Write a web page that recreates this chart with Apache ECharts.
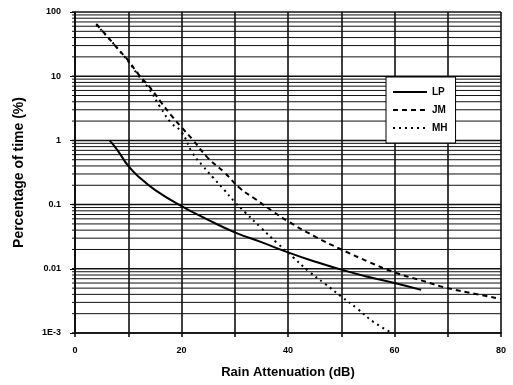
<!DOCTYPE html>
<html>
<head>
<meta charset="utf-8">
<script src="https://cdn.jsdelivr.net/npm/echarts@6/dist/echarts.min.js"></script>
<style>
  html, body { margin: 0; padding: 0; background: #fff; }
  #main { width: 513px; height: 385px; }
</style>
</head>
<body>
<div id="main"></div>
<script>
// attenuation (dB) / percentage of time (%)
const lpX = [6.5, 8, 10, 12, 15, 20, 25, 30, 35, 40, 45, 50, 55, 60, 65];
const lpY = [1, 0.7, 0.4, 0.27, 0.17, 0.095, 0.058, 0.037, 0.026, 0.018, 0.013, 0.0097, 0.0075, 0.006, 0.0047];

const jmX = [4, 6, 8, 10, 12, 14, 16, 18, 20, 22, 25, 28, 31, 34, 37, 40, 45, 50, 55, 60, 65, 70, 75, 80];
const jmY = [65, 42, 27, 17.5, 10.5, 6.8, 4.1, 2.5, 1.6, 1.05, 0.53, 0.32, 0.18, 0.12, 0.08, 0.055, 0.032, 0.02, 0.013, 0.0088, 0.0066, 0.005, 0.0041, 0.0034];

const mhX = [4, 6, 8, 10, 12, 14, 16, 18, 20, 22, 24, 26, 28, 30, 32, 35, 38, 41, 44, 47, 50, 53, 56, 59.5];
const mhY = [63, 42, 27, 17, 10, 6.2, 3.3, 1.9, 1.35, 0.65, 0.4, 0.26, 0.17, 0.11, 0.075, 0.043, 0.025, 0.015, 0.009, 0.0058, 0.0037, 0.0024, 0.0015, 0.001];

const yLabels = { '100': '100', '10': '10', '1': '1', '0.1': '0.1', '0.01': '0.01', '0.001': '1E-3' };
const decades = [0.001, 0.01, 0.1, 1, 10];

// log grid lines: 1..9 in each decade, plus the top
const gridVals = [];
decades.forEach(d => { for (let m = 1; m <= 9; m++) gridVals.push(+(d * m).toPrecision(3)); });
gridVals.push(100);

const pairs = (xs, ys) => xs.map((x, i) => [x, ys[i]]);
const font = 'Liberation Sans, Arial, sans-serif';

const chart = echarts.init(document.getElementById('main'));
chart.setOption({
  animation: false,
  backgroundColor: '#fff',
  grid: { left: 75, right: 12, top: 12, bottom: 52 },
  legend: {
    left: 386, top: 77, orient: 'vertical',
    data: ['LP', 'JM', 'MH'],
    backgroundColor: '#fff', borderColor: '#000', borderWidth: 1,
    padding: [10, 8, 10, 6], itemWidth: 34, itemHeight: 10, itemGap: 8,
    itemStyle: { opacity: 0 },
    textStyle: { color: '#000', fontSize: 10, fontWeight: 'bold', fontFamily: font }
  },
  xAxis: {
    type: 'value', min: 0, max: 80, interval: 10,
    name: 'Rain Attenuation (dB)', nameLocation: 'middle', nameGap: 33,
    nameTextStyle: { color: '#000', fontSize: 13, fontWeight: 'bold', fontFamily: font },
    axisLine: { lineStyle: { color: '#000', width: 1.5 } },
    axisTick: { length: 4, lineStyle: { color: '#000', width: 1.5 } },
    axisLabel: {
      color: '#000', fontSize: 9, fontWeight: 'bold', fontFamily: font, margin: 13,
      formatter: v => (v % 20 === 0 ? String(v) : '')
    },
    splitLine: { show: true, lineStyle: { color: '#000', width: 1.5 } }
  },
  yAxis: {
    type: 'log', logBase: 10, min: 0.001, max: 100,
    name: 'Percentage of time (%)', nameLocation: 'middle', nameGap: 49,
    nameTextStyle: { color: '#000', fontSize: 14, fontWeight: 'bold', fontFamily: font },
    axisLine: { show: true, lineStyle: { color: '#000', width: 1.5 } },
    axisTick: { length: 5, lineStyle: { color: '#000', width: 1 } },
    axisLabel: {
      color: '#000', fontSize: 9, fontWeight: 'bold', fontFamily: font, margin: 14,
      formatter: v => yLabels[String(+v.toPrecision(3))] || ''
    },
    splitLine: { show: false }
  },
  series: [
    {
      type: 'custom', silent: true, z: 1, clip: false,
      data: gridVals.map(v => [0, v]),
      encode: { x: 0, y: 1 },
      renderItem: (params, api) => {
        const v = api.value(1);
        const a = api.coord([0, v]);
        const b = api.coord([80, v]);
        const major = Math.abs(Math.log10(v) - Math.round(Math.log10(v))) < 1e-6;
        return {
          type: 'line',
          shape: { x1: a[0] - 3, y1: a[1], x2: b[0], y2: b[1] },
          style: { stroke: '#111', lineWidth: major ? 1.5 : 1 }
        };
      }
    },
    {
      name: 'LP', type: 'line', smooth: true, symbol: 'none', z: 3,
      data: pairs(lpX, lpY),
      lineStyle: { color: '#000', width: 2, type: 'solid' },
      itemStyle: { color: '#000' }
    },
    {
      name: 'JM', type: 'line', smooth: true, symbol: 'none', z: 3,
      data: pairs(jmX, jmY),
      lineStyle: { color: '#000', width: 2, type: [5, 4] },
      itemStyle: { color: '#000' }
    },
    {
      name: 'MH', type: 'line', smooth: true, symbol: 'none', z: 3,
      data: pairs(mhX, mhY),
      lineStyle: { color: '#000', width: 2, type: [2, 4] },
      itemStyle: { color: '#000' }
    }
  ]
});
</script>
</body>
</html>
